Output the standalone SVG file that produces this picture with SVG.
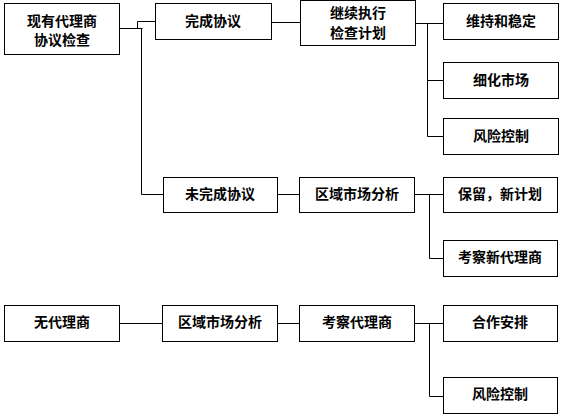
<svg xmlns="http://www.w3.org/2000/svg" width="564" height="419" viewBox="0 0 564 419">
<style>
rect{fill:#fff;stroke:#000;stroke-width:1}
text{font-family:"Noto Sans CJK SC","Noto Sans",sans-serif;font-size:14px;font-weight:bold;fill:#000;text-anchor:middle;dominant-baseline:central}
.c path{fill:none;stroke:#000;stroke-width:1}
</style>
<rect x="0" y="0" width="564" height="419" style="fill:#fff;stroke:none"/>
<g class="c" id="connectors">
<path d="M119.5 28.5H142.5M137.5 28.5V21.5H155.5M141.5 28.5V194.5H163.5"/>
<path d="M271.5 22.5H300.5"/>
<path d="M415.5 23.5H443.5M427.5 23.5V136.5H443.5M427.5 80.5H443.5"/>
<path d="M277.5 194.5H299.5"/>
<path d="M414.5 194.5H443.5M429.5 194.5V258.5H443.5"/>
<path d="M119.5 323.5H162.5M277.5 323.5H299.5"/>
<path d="M414.5 323.5H443.5M429.5 323.5V396.5H443.5"/>
</g>
<g id="n1"><rect x="4.5" y="3.5" width="115" height="51"/><text x="62" y="20">现有代理商</text><text x="62" y="38.5">协议检查</text></g>
<g id="n2"><rect x="155.5" y="3.5" width="116" height="36"/><text x="213" y="19.5">完成协议</text></g>
<g id="n3"><rect x="300.5" y="0.5" width="115" height="45"/><text x="358" y="11.5">继续执行</text><text x="358" y="31.5">检查计划</text></g>
<g id="n4"><rect x="443.5" y="3.5" width="115" height="36"/><text x="501" y="19.5">维持和稳定</text></g>
<g id="n5"><rect x="443.5" y="62.5" width="115" height="36"/><text x="501" y="78.5">细化市场</text></g>
<g id="n6"><rect x="443.5" y="118.5" width="115" height="36"/><text x="501" y="134.5">风险控制</text></g>
<g id="n7"><rect x="163.5" y="177.5" width="114" height="35"/><text x="220" y="193">未完成协议</text></g>
<g id="n8"><rect x="299.5" y="177.5" width="115" height="35"/><text x="357" y="193">区域市场分析</text></g>
<g id="n9"><rect x="443.5" y="177.5" width="114" height="35"/><text x="500" y="193">保留，新计划</text></g>
<g id="n10"><rect x="443.5" y="240.5" width="114" height="36"/><text x="500" y="256">考察新代理商</text></g>
<g id="n11"><rect x="4.5" y="305.5" width="115" height="36"/><text x="62" y="321">无代理商</text></g>
<g id="n12"><rect x="162.5" y="305.5" width="115" height="36"/><text x="220" y="321">区域市场分析</text></g>
<g id="n13"><rect x="299.5" y="305.5" width="115" height="36"/><text x="357" y="321">考察代理商</text></g>
<g id="n14"><rect x="443.5" y="305.5" width="114" height="36"/><text x="500" y="321">合作安排</text></g>
<g id="n15"><rect x="443.5" y="377.5" width="114" height="36"/><text x="500" y="393">风险控制</text></g>
</svg>
